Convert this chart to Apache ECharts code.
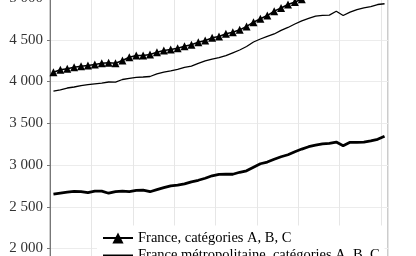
<!DOCTYPE html>
<html>
<head>
<meta charset="utf-8">
<script src="https://cdn.jsdelivr.net/npm/echarts@6/dist/echarts.min.js"></script>
<style>
html,body{margin:0;padding:0;background:#fff;overflow:hidden;width:416px;height:256px;}
#chart{position:absolute;left:0;top:-2.5px;width:416px;height:330px;}
</style>
</head>
<body>
<div id="chart"></div>
<script>
var months = ['2010-02','2010-03','2010-04','2010-05','2010-06','2010-07','2010-08','2010-09','2010-10','2010-11','2010-12','2011-01',
'2011-02','2011-03','2011-04','2011-05','2011-06','2011-07','2011-08','2011-09','2011-10','2011-11','2011-12','2012-01',
'2012-02','2012-03','2012-04','2012-05','2012-06','2012-07','2012-08','2012-09','2012-10','2012-11','2012-12','2013-01',
'2013-02','2013-03','2013-04','2013-05','2013-06','2013-07','2013-08','2013-09','2013-10','2013-11','2013-12','2014-01','2014-02'];

var franceABC = [4111,4140,4152,4171,4183,4192,4204,4219,4224,4219,4251,4291,
4311,4311,4323,4351,4371,4383,4399,4423,4440,4471,4491,4523,
4539,4571,4590,4619,4659,4710,4751,4790,4842,4880,4922,4952,
4985,5020,5048,5058,5060,5108,5055,5098,5130,5150,5166,5190,5200];

var metroABC = [3884,3900,3922,3934,3950,3962,3972,3980,3994,3992,4024,4038,
4050,4054,4060,4090,4111,4128,4146,4168,4183,4216,4246,4269,
4287,4311,4344,4377,4419,4473,4509,4541,4569,4613,4647,4689,
4727,4755,4782,4793,4795,4841,4790,4830,4862,4883,4898,4922,4931];

var metroA = [2652,2664,2674,2683,2682,2668,2686,2686,2662,2682,2688,2682,
2695,2698,2680,2704,2728,2751,2760,2775,2799,2817,2841,2871,
2887,2889,2889,2913,2931,2973,3015,3035,3069,3099,3123,3159,
3191,3219,3237,3254,3260,3275,3231,3272,3270,3275,3290,3308,3344];

var seriesNames = ['France, catégories A, B, C', 'France métropolitaine, catégories A, B, C', 'France métropolitaine, catégorie A'];

var serif = '"Liberation Serif", "Times New Roman", serif';
function fmt(v){ return String(v).replace(/\B(?=(\d{3})+(?!\d))/g, ' '); }

var chart = echarts.init(document.getElementById('chart'), null, {renderer:'canvas'});
chart.setOption({
  animation:false,
  backgroundColor:'#fff',
  grid:{left:50, right:28, top:0, bottom:37.75, containLabel:false, outerBoundsMode:'none',
        show:true, borderColor:'#999', borderWidth:1, backgroundColor:'transparent'},
  xAxis:{
    type:'category', data:months, boundaryGap:true,
    axisLine:{show:false}, axisTick:{show:false}, axisLabel:{show:false},
    splitLine:{show:true, interval:5, lineStyle:{color:'#e6e6e6', width:1}}
  },
  yAxis:{
    type:'value', min:1500, max:5000, interval:500,
    axisLine:{show:true, lineStyle:{color:'#777', width:1}},
    axisTick:{show:true, length:3, lineStyle:{color:'#777'}},
    axisLabel:{formatter:fmt, fontFamily:serif, fontSize:15, color:'#333', margin:7},
    splitLine:{show:true, lineStyle:{color:'#ececec', width:1}}
  },
  legend:{
    orient:'vertical', left:97, top:227.5, padding:5,
    backgroundColor:'#fff',
    itemWidth:30, itemHeight:14, itemGap:2.5,
    textStyle:{fontFamily:serif, fontSize:14.5, color:'#000', lineHeight:14},
    data:[
      {name:seriesNames[0]},
      {name:seriesNames[1], itemStyle:{color:'rgba(0,0,0,0)', borderWidth:0, opacity:0}},
      {name:seriesNames[2], itemStyle:{color:'rgba(0,0,0,0)', borderWidth:0, opacity:0}}
    ]
  },
  series:[
    {name:seriesNames[0], type:'line', data:franceABC, symbol:'triangle', symbolSize:8, showAllSymbol:true,
     itemStyle:{color:'#000'}, lineStyle:{color:'#000', width:1.5}},
    {name:seriesNames[1], type:'line', data:metroABC, symbol:'none', showSymbol:false,
     itemStyle:{color:'#000'}, lineStyle:{color:'#000', width:1.3}},
    {name:seriesNames[2], type:'line', data:metroA, symbol:'none', showSymbol:false,
     itemStyle:{color:'#000'}, lineStyle:{color:'#000', width:2.8}}
  ]
});
</script>
</body>
</html>
